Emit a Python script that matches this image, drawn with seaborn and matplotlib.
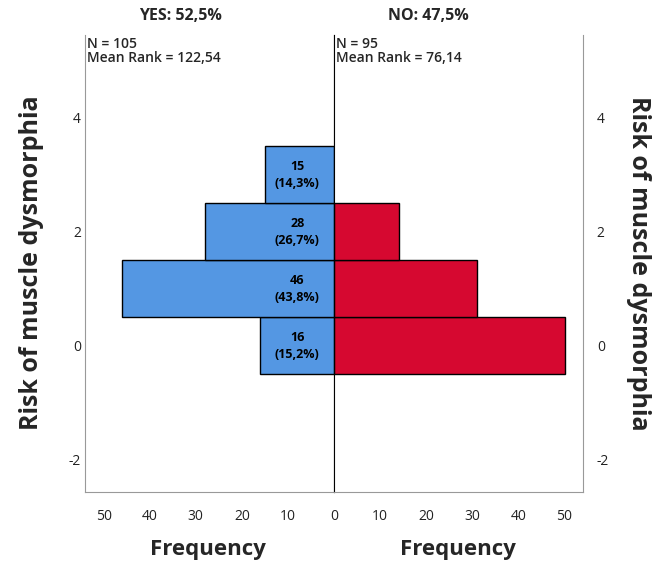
import numpy as np
import pandas as pd
import matplotlib
matplotlib.use("Agg")
import matplotlib.pyplot as plt
import seaborn as sns

# risk levels and counts per group
levels = [0, 1, 2, 3]
yes_counts = [16, 46, 28, 15]
no_counts = [50, 31, 14, 0]
yes_pct = ["15,2%", "43,8%", "26,7%", "14,3%"]

yes_title = "YES: 52,5%"
no_title = "NO: 47,5%"
yes_info = "N = 105\nMean Rank = 122,54"
no_info = "N = 95\nMean Rank = 76,14"
ylabel = "Risk of muscle dysmorphia"
xlabel = "Frequency"

blue = "#5497E3"
red = "#D60830"

sns.set_style("white")
plt.rcParams['font.family'] = ['Open Sans', 'DejaVu Sans']
plt.rcParams['axes.unicode_minus'] = False

df_yes = pd.DataFrame({'level': levels, 'count': yes_counts})
df_no = pd.DataFrame({'level': levels, 'count': no_counts})

fig = plt.figure(figsize=(6.55, 5.65), dpi=100)
ax1 = fig.add_axes([0.130, 0.129, 0.380, 0.809])
ax2 = fig.add_axes([0.510, 0.129, 0.380, 0.809])

sns.histplot(data=df_yes, y='level', weights='count', discrete=True,
             color=blue, edgecolor='black', linewidth=1, alpha=1, ax=ax1)
sns.histplot(data=df_no[df_no['count'] > 0], y='level', weights='count', discrete=True,
             color=red, edgecolor='black', linewidth=1, alpha=1, ax=ax2)

for ax in (ax1, ax2):
    ax.set_ylim(-2.57, 5.45)
    ax.set_yticks([-2, 0, 2, 4])
    ax.set_xlabel('')
    ax.set_ylabel('')
    ax.spines['top'].set_visible(False)
    ax.tick_params(length=0, labelsize=10, labelcolor='#222222')
    for s in ('left', 'right', 'bottom'):
        ax.spines[s].set_color('#999999')

ax1.set_xlim(54, 0)
ax1.set_xticks([50, 40, 30, 20, 10, 0])
ax1.spines['right'].set_color('black')
ax1.tick_params(axis='x', pad=12)
ax1.tick_params(axis='y', pad=3)

ax2.set_xlim(0, 54)
ax2.set_xticks([10, 20, 30, 40, 50])
ax2.spines['left'].set_color('black')
ax2.yaxis.tick_right()
ax2.tick_params(axis='x', pad=12)
ax2.tick_params(axis='y', pad=10)

for lv, c, p in zip(levels, yes_counts, yes_pct):
    ax1.text(8, lv, f"{c}\n({p})", ha='center', va='center',
             fontsize=9, fontweight='bold', linespacing=1.4, color='black')

ax1.text(0.008, 0.995, yes_info, transform=ax1.transAxes, ha='left', va='top',
         fontsize=10, fontweight='semibold', linespacing=1.0)
ax2.text(0.008, 0.995, no_info, transform=ax2.transAxes, ha='left', va='top',
         fontsize=10, fontweight='semibold', linespacing=1.0)

fig.text(180 / 655, 1 - 16 / 565, yes_title, ha='center', va='center',
         fontsize=11.5, fontweight='bold')
fig.text(428 / 655, 1 - 16 / 565, no_title, ha='center', va='center',
         fontsize=11.5, fontweight='bold')

fig.text(208 / 655, 1 - 550 / 565, xlabel, ha='center', va='center',
         fontsize=16, fontweight='bold')
fig.text(458 / 655, 1 - 550 / 565, xlabel, ha='center', va='center',
         fontsize=16, fontweight='bold')

fig.text(32 / 655, 1 - 263 / 565, ylabel, ha='center', va='center',
         rotation=90, fontsize=18, fontweight='bold')
fig.text(638 / 655, 1 - 263 / 565, ylabel, ha='center', va='center',
         rotation=-90, fontsize=18, fontweight='bold')

fig.savefig("out.png", dpi=100)
